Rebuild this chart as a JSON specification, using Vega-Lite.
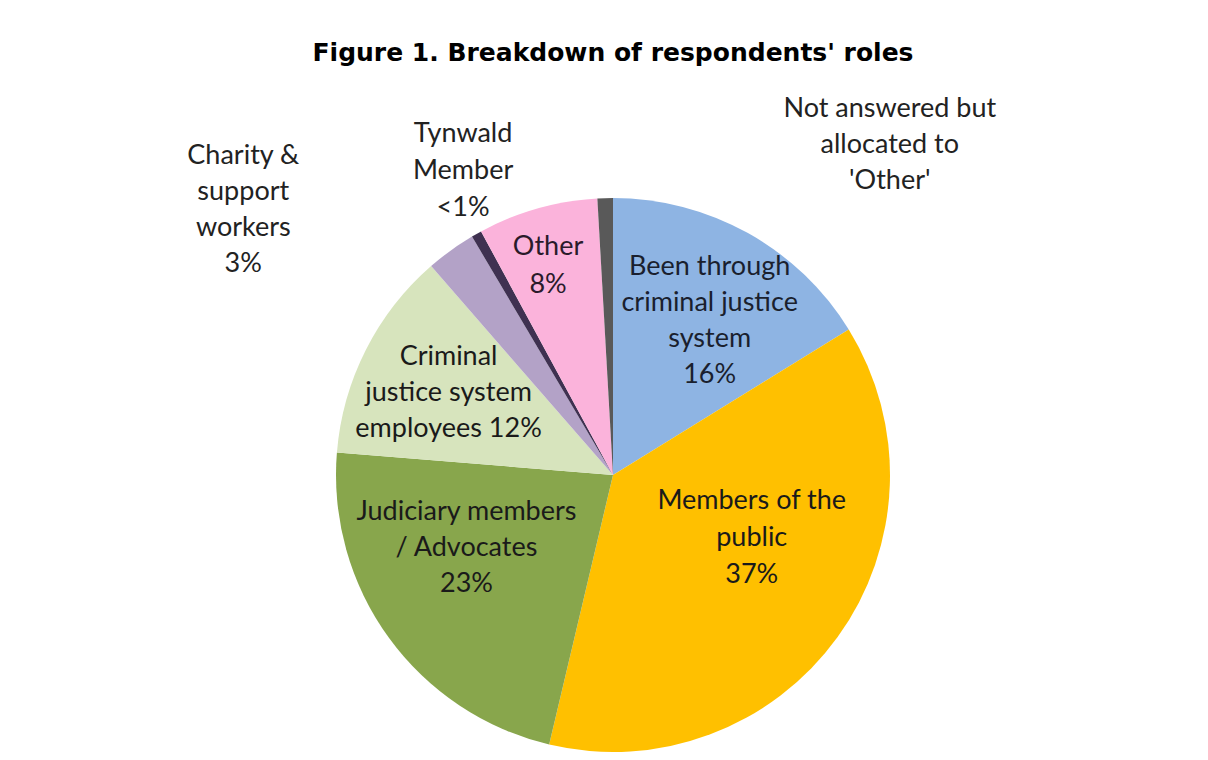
{
  "$schema": "https://vega.github.io/schema/vega-lite/v6.json",
  "autosize": {"type": "none"},
  "width": 1190,
  "height": 570,
  "padding": {"left": 18, "top": 190, "right": 0, "bottom": 0},
  "background": "white",
  "config": {"view": {"stroke": null}},
  "title": {
    "text": "Figure 1. Breakdown of respondents' roles",
    "font": "DejaVu Sans",
    "fontSize": 25,
    "fontWeight": "bold",
    "color": "#000000",
    "anchor": "middle",
    "offset": 16
  },
  "data": {
    "values": [
      {"order": 1, "role": "Been through criminal justice system", "value": 16.2, "label": "Been through\ncriminal justice\nsystem\n16%"},
      {"order": 2, "role": "Members of the public", "value": 37.5, "label": "Members  of the\npublic\n37%"},
      {"order": 3, "role": "Judiciary members / Advocates", "value": 22.6, "label": "Judiciary members\n/ Advocates\n23%"},
      {"order": 4, "role": "Criminal justice system employees", "value": 12.3, "label": "Criminal\njustice system\nemployees  12%"},
      {"order": 5, "role": "Charity & support workers", "value": 2.9, "label": "Charity &\nsupport\nworkers\n3%"},
      {"order": 6, "role": "Tynwald Member", "value": 0.6, "label": "Tynwald\nMember\n<1%"},
      {"order": 7, "role": "Other", "value": 7.0, "label": "Other\n8%"},
      {"order": 8, "role": "Not answered but allocated to 'Other'", "value": 0.9, "label": "Not answered  but\nallocated to\n'Other'"}
    ]
  },
  "encoding": {
    "theta": {"field": "value", "type": "quantitative", "stack": true},
    "order": {"field": "order", "type": "quantitative", "sort": "ascending"},
    "detail": {"field": "role", "type": "nominal"}
  },
  "layer": [
    {
      "mark": {"type": "arc", "outerRadius": 277},
      "encoding": {
        "color": {
          "field": "role",
          "type": "nominal",
          "legend": null,
          "sort": {"field": "order"},
          "scale": {
            "domain": ["Been through criminal justice system", "Members of the public", "Judiciary members / Advocates", "Criminal justice system employees", "Charity & support workers", "Tynwald Member", "Other", "Not answered but allocated to 'Other'"],
            "range": ["#8EB4E3", "#FFC000", "#88A64C", "#D7E4BD", "#B3A2C7", "#3F3151", "#FBB3DB", "#595959"]
          }
        }
      }
    },
    {
      "mark": {"type": "text", "radius": 182, "dx": 8, "dy": -49, "font": "Lato", "fontSize": 27, "lineHeight": 36, "lineBreak": "\n", "baseline": "middle", "align": "center", "fill": "#1a1f2e"},
      "encoding": {
        "text": {"condition": {"test": "datum.order === 1", "field": "label"}, "value": ""}
      }
    },
    {
      "mark": {"type": "text", "radius": 182, "dx": -2, "dy": -36, "font": "Lato", "fontSize": 27, "lineHeight": 36, "lineBreak": "\n", "baseline": "middle", "align": "center", "fill": "#1a1a1a"},
      "encoding": {
        "text": {"condition": {"test": "datum.order === 4", "field": "label"}, "value": ""}
      }
    },
    {
      "mark": {"type": "text", "radius": 160, "dx": 9, "dy": -68, "font": "Lato", "fontSize": 27, "lineHeight": 37, "lineBreak": "\n", "baseline": "middle", "align": "center", "fill": "#1a1a1a"},
      "encoding": {
        "text": {"condition": {"test": "datum.order === 2", "field": "label"}, "value": ""}
      }
    },
    {
      "mark": {"type": "text", "radius": 170, "dx": -9, "dy": -63, "font": "Lato", "fontSize": 27, "lineHeight": 36, "lineBreak": "\n", "baseline": "middle", "align": "center", "fill": "#1a1a1a"},
      "encoding": {
        "text": {"condition": {"test": "datum.order === 3", "field": "label"}, "value": ""}
      }
    },
    {
      "mark": {"type": "text", "radius": 216, "dx": -6, "dy": -20, "font": "Lato", "fontSize": 27, "lineHeight": 38, "lineBreak": "\n", "baseline": "middle", "align": "center", "fill": "#2a1a2a"},
      "encoding": {
        "text": {"condition": {"test": "datum.order === 7", "field": "label"}, "value": ""}
      }
    },
    {
      "mark": {"type": "text", "radius": 290, "dx": -200, "dy": -84, "font": "Lato", "fontSize": 27, "lineHeight": 36, "lineBreak": "\n", "baseline": "middle", "align": "center", "fill": "#222222"},
      "encoding": {
        "text": {"condition": {"test": "datum.order === 5", "field": "label"}, "value": ""}
      }
    },
    {
      "mark": {"type": "text", "radius": 290, "dx": -7, "dy": -89, "font": "Lato", "fontSize": 27, "lineHeight": 37, "lineBreak": "\n", "baseline": "middle", "align": "center", "fill": "#222222"},
      "encoding": {
        "text": {"condition": {"test": "datum.order === 6", "field": "label"}, "value": ""}
      }
    },
    {
      "mark": {"type": "text", "radius": 290, "dx": 285, "dy": -76, "font": "Lato", "fontSize": 27, "lineHeight": 36, "lineBreak": "\n", "baseline": "middle", "align": "center", "fill": "#222222"},
      "encoding": {
        "text": {"condition": {"test": "datum.order === 8", "field": "label"}, "value": ""}
      }
    }
  ]
}
